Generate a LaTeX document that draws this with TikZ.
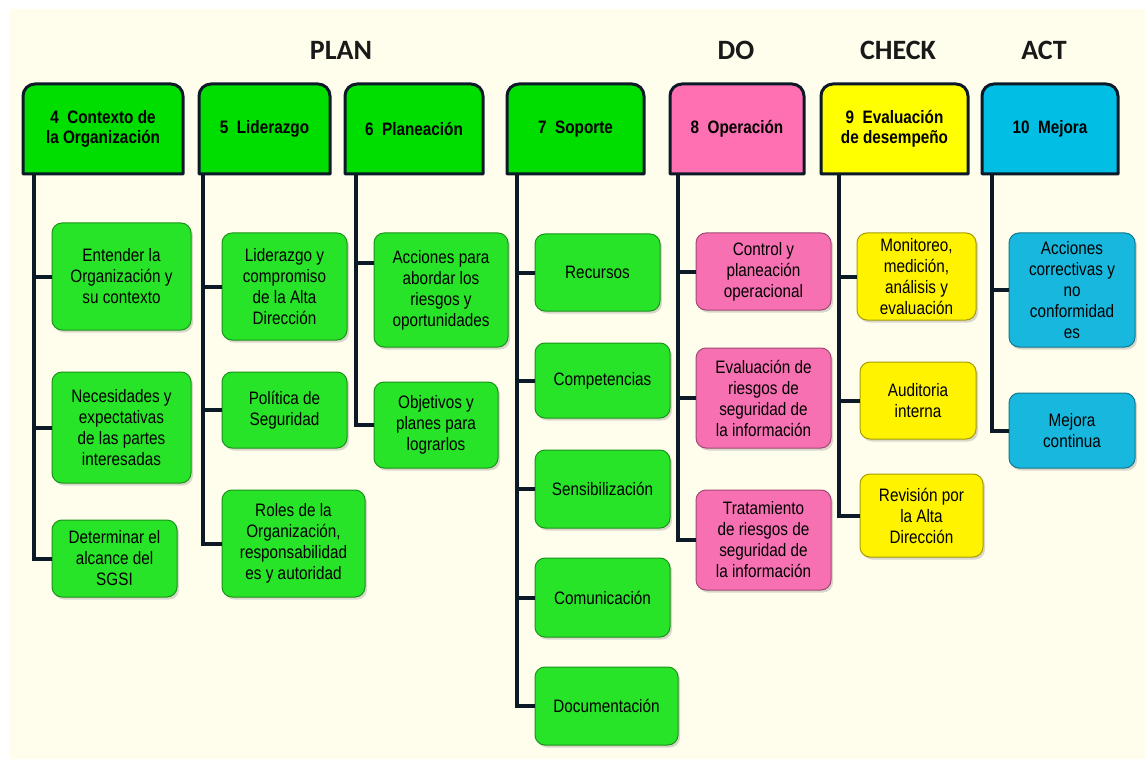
\documentclass[tikz,border=0pt]{standalone}
\usepackage{fontspec}
\setmainfont{Liberation Sans}[FakeStretch=0.85]
\newfontfamily\phasefont{Carlito}
\usetikzlibrary{shadows}

\definecolor{cream}{RGB}{255,253,235}
\definecolor{wire}{RGB}{12,26,40}
\definecolor{hgreen}{RGB}{0,222,0}
\definecolor{kgreen}{RGB}{40,228,40}
\definecolor{hpink}{RGB}{255,112,178}
\definecolor{kpink}{RGB}{246,112,178}
\definecolor{hyellow}{RGB}{255,255,0}
\definecolor{kyellow}{RGB}{255,243,0}
\definecolor{hblue}{RGB}{0,190,228}
\definecolor{kblue}{RGB}{24,184,222}

\tikzset{phase/.style = {font=\phasefont\fontsize{28}{30}\selectfont\bfseries, text=black!90}}
\tikzset{hdr/.style = {inner sep=0pt, minimum height=90pt, align=center, font=\fontsize{18}{20}\selectfont\bfseries}}
\tikzset{hdrline/.style = {draw=wire, line width=3pt, line join=round}}
\tikzset{item/.style = {rounded corners=10pt, fill=#1, draw=#1!65!black, line width=1pt, inner sep=0pt, align=center,
                        font=\fontsize{18}{21}\selectfont, drop shadow={shadow xshift=2pt, shadow yshift=-2.5pt, opacity=0.3}}}
\tikzset{trunk/.style = {draw=wire, line width=4pt}}

% name, centre x, centre y, width, colour, text
\newcommand{\hdrbox}[6]{%
  \draw[hdrline, fill=#5] ({#2-#4/2},{#3+45}) -- ({#2-#4/2},{#3-33})
    arc[start angle=180, end angle=90, radius=12pt] -- ({#2+#4/2-12},{#3-45})
    arc[start angle=90, end angle=0, radius=12pt] -- ({#2+#4/2},{#3+45}) -- cycle;
  \node[hdr, minimum width=#4pt] (#1) at (#2,#3) {#6};
}

\begin{document}
\begin{tikzpicture}[x=1pt, y=-1pt]
	\useasboundingbox (0,0) rectangle (1145,759);
	\fill[white] (0,0) rectangle (1145,759);
	\fill[cream] (9,9) rectangle (1145,759);

	\node[phase] (plan)  at (341,50)  {PLAN};
	\node[phase] (do)    at (736,50)  {DO};
	\node[phase] (check) at (898,50)  {CHECK};
	\node[phase] (act)   at (1044,50) {ACT};

	\hdrbox{h4}{103}{129}{160}{hgreen}{4~ Contexto de\\la Organización}
	\hdrbox{h5}{264.5}{129}{131}{hgreen}{5~ Liderazgo}
	\hdrbox{h6}{414}{129}{138}{hgreen}{6~ Planeación}
	\hdrbox{h7}{575.5}{129}{137}{hgreen}{7~ Soporte}
	\hdrbox{h8}{737}{129}{134}{hpink}{8~ Operación}
	\hdrbox{h9}{894.5}{129}{147}{hyellow}{9~ Evaluación\\de desempeño}
	\hdrbox{h10}{1050}{129}{136}{hblue}{10~ Mejora}

	\coordinate (t4)  at (34,174);
	\coordinate (t5)  at (203,174);
	\coordinate (t6)  at (356,174);
	\coordinate (t7)  at (517,174);
	\coordinate (t8)  at (678,174);
	\coordinate (t9)  at (839,174);
	\coordinate (t10) at (992,174);

	\node[item=kgreen, minimum width=139pt, minimum height=107pt] (c41) at (121.5,276.5) {Entender la\\Organización y\\su contexto};
	\node[item=kgreen, minimum width=139pt, minimum height=111pt] (c42) at (121.5,427.5) {Necesidades y\\expectativas\\de las partes\\interesadas};
	\node[item=kgreen, minimum width=125pt, minimum height=77pt]  (c43) at (114.5,558.5) {Determinar el\\alcance del\\SGSI};

	\node[item=kgreen, minimum width=125pt, minimum height=107pt] (c51) at (284.5,286.5) {Liderazgo y\\compromiso\\de la Alta\\Dirección};
	\node[item=kgreen, minimum width=125pt, minimum height=76pt]  (c52) at (284.5,410) {Política de\\Seguridad};
	\node[item=kgreen, minimum width=143pt, minimum height=107pt] (c53) at (293.5,543.5) {Roles de la\\Organización,\\responsabilidad\\es y autoridad};

	\node[item=kgreen, minimum width=134pt, minimum height=114pt] (c61) at (441,290) {Acciones para\\abordar los\\riesgos y\\oportunidades};
	\node[item=kgreen, minimum width=124pt, minimum height=86pt]  (c62) at (436,425) {Objetivos y\\planes para\\lograrlos};

	\node[item=kgreen, minimum width=125pt, minimum height=77pt] (c71) at (597.5,272.5) {Recursos};
	\node[item=kgreen, minimum width=135pt, minimum height=75pt] (c72) at (602.5,380.5) {Competencias};
	\node[item=kgreen, minimum width=135pt, minimum height=78pt] (c73) at (602.5,489) {Sensibilización};
	\node[item=kgreen, minimum width=135pt, minimum height=79pt] (c74) at (602.5,597.5) {Comunicación};
	\node[item=kgreen, minimum width=143pt, minimum height=78pt] (c75) at (606.5,706) {Documentación};

	\node[item=kpink, minimum width=135pt, minimum height=77pt]  (c81) at (763.5,271.5) {Control y\\planeación\\operacional};
	\node[item=kpink, minimum width=135pt, minimum height=100pt] (c82) at (763.5,398) {Evaluación de\\riesgos de\\seguridad de\\la información};
	\node[item=kpink, minimum width=135pt, minimum height=100pt] (c83) at (763.5,540) {Tratamiento\\de riesgos de\\seguridad de\\la información};

	\node[item=kyellow, minimum width=119pt, minimum height=87pt] (c91) at (916.5,276.5) {Monitoreo,\\medición,\\análisis y\\evaluación};
	\node[item=kyellow, minimum width=116pt, minimum height=77pt] (c92) at (918,400.5) {Auditoria\\interna};
	\node[item=kyellow, minimum width=123pt, minimum height=83pt] (c93) at (921.5,515.5) {Revisión por\\la Alta\\Dirección};

	\node[item=kblue, minimum width=126pt, minimum height=114pt] (c101) at (1072,290) {Acciones\\correctivas y\\no\\conformidad\\es};
	\node[item=kblue, minimum width=126pt, minimum height=75pt]  (c102) at (1072,430.5) {Mejora\\continua};

	\foreach \k in {c41,c42,c43} \draw[trunk] (t4) |- (\k.west);
	\foreach \k in {c51,c52,c53} \draw[trunk] (t5) |- (\k.west);
	\draw[trunk] (t6) |- ([yshift=27pt]c61.west);
	\draw[trunk] (t6) |- (c62.west);
	\foreach \k in {c71,c72,c73,c74,c75} \draw[trunk] (t7) |- (\k.west);
	\foreach \k in {c81,c82,c83} \draw[trunk] (t8) |- (\k.west);
	\foreach \k in {c91,c92,c93} \draw[trunk] (t9) |- (\k.west);
	\foreach \k in {c101,c102} \draw[trunk] (t10) |- (\k.west);
\end{tikzpicture}
\end{document}
